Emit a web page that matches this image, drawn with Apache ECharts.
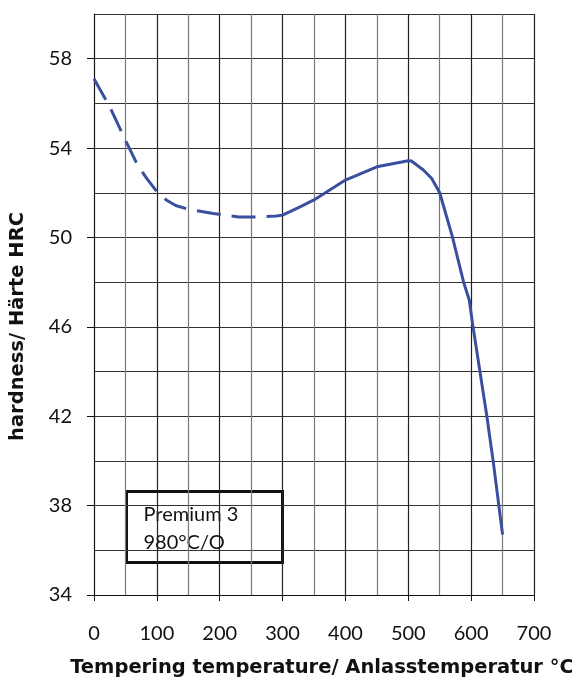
<!DOCTYPE html>
<html><head><meta charset="utf-8">
<script src="https://cdn.jsdelivr.net/npm/echarts@6/dist/echarts.min.js"></script>
<style>html,body{margin:0;padding:0;background:#fff}#c{width:572px;height:684px}</style>
</head><body><div id="c"></div>
<script>
const dashedTemps = [0, 25, 50, 70, 85, 100, 115, 130, 150, 190, 230, 260, 290, 300];
const dashedHardness = [57.1, 55.85, 54.35, 53.2, 52.6, 52.05, 51.68, 51.43, 51.26, 51.07, 50.92, 50.92, 50.96, 51.0];
const solidTemps = [300, 327, 350, 400, 450, 500, 505, 524, 537, 550, 570, 588, 597, 603, 614, 625, 635, 650];
const solidHardness = [51.0, 51.36, 51.68, 52.57, 53.16, 53.43, 53.42, 53.02, 52.65, 52.0, 50.05, 48.0, 47.2, 46.0, 44.0, 42.0, 40.0, 36.7];
const xTickLabels = [0, 100, 200, 300, 400, 500, 600, 700];
const yTickLabels = [34, 38, 42, 46, 50, 54, 58];
const legendLines = ['Premium 3', '980°C/O'];
const xName = 'Tempering temperature/ Anlasstemperatur °C';
const yName = 'hardness/ Härte HRC';

const FONT = 'Lato';
const NAME_FONT = 'DejaVu Sans';
const lineColor = '#3a4fa0';
const chart = echarts.init(document.getElementById('c'));
const zip = (a, b) => a.map((v, i) => [v, b[i]]);

chart.setOption({
  animation: false,
  backgroundColor: '#fff',
  grid: { left: 94, right: 38, top: 14, bottom: 89, containLabel: false, outerBoundsMode: 'none' },
  xAxis: [
    {
      type: 'value', min: 0, max: 700, interval: 50,
      name: xName, nameLocation: 'middle', nameGap: 63,
      nameTextStyle: { fontFamily: NAME_FONT, fontWeight: 'bold', fontSize: 19.5, color: '#111', padding: [0, 0, 0, 16] },
      axisLine: { show: true, lineStyle: { color: '#111', width: 1 } },
      axisTick: { show: false },
      axisLabel: { customValues: xTickLabels, margin: 29, fontFamily: FONT, fontSize: 20, color: '#111' },
      splitLine: { show: true, lineStyle: { color: ['#222', '#7a7a7a'], width: 1.2 } }
    },
    {
      type: 'value', min: 0, max: 700, position: 'bottom', gridIndex: 0,
      axisLine: { show: false }, axisLabel: { show: false }, splitLine: { show: false },
      axisTick: { show: true, length: 6, customValues: xTickLabels, lineStyle: { color: '#111' } }
    }
  ],
  yAxis: [
    {
      type: 'value', min: 34, max: 60, interval: 2,
      name: yName, nameLocation: 'middle', nameGap: 66,
      nameTextStyle: { fontFamily: NAME_FONT, fontWeight: 'bold', fontSize: 19.5, color: '#111', padding: [0, 44, 0, 0] },
      axisLine: { show: true, lineStyle: { color: '#111', width: 1 } },
      axisTick: { show: false },
      axisLabel: { customValues: yTickLabels, margin: 22, fontFamily: FONT, fontSize: 20, color: '#111' },
      splitLine: { show: true, lineStyle: { color: '#333', width: 1.2 } }
    },
    {
      type: 'value', min: 34, max: 60, position: 'left', gridIndex: 0,
      axisLine: { show: false }, axisLabel: { show: false }, splitLine: { show: false },
      axisTick: { show: true, length: 7, customValues: yTickLabels, lineStyle: { color: '#111' } }
    }
  ],
  series: [
    {
      type: 'line', data: zip(dashedTemps, dashedHardness), smooth: false,
      symbol: 'none', lineStyle: { color: lineColor, width: 3, type: [24, 11] }, z: 5
    },
    {
      type: 'line', data: zip(solidTemps, solidHardness), smooth: false,
      symbol: 'none', lineStyle: { color: lineColor, width: 3 }, z: 5
    }
  ],
  graphic: [
    {
      type: 'group', left: 125, top: 490, z: 10,
      children: [
        { type: 'rect', shape: { x: 0, y: 0, width: 156, height: 71 }, style: { fill: '#fff', stroke: '#111', lineWidth: 3 } },
        { type: 'text', x: 17, y: 23, style: { text: legendLines[0], fontFamily: FONT, fontSize: 20, fill: '#111', verticalAlign: 'middle' } },
        { type: 'text', x: 17, y: 51, style: { text: legendLines[1], fontFamily: FONT, fontSize: 20, fill: '#111', verticalAlign: 'middle' } }
      ]
    }
  ]
});
</script></body></html>
